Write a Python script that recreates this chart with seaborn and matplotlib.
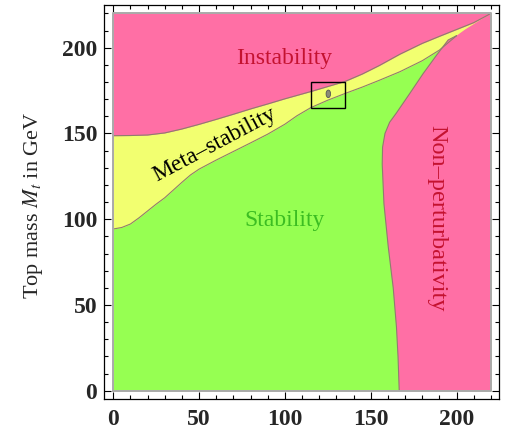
import numpy as np
import pandas as pd
import matplotlib
matplotlib.use("Agg")
import matplotlib.pyplot as plt
import seaborn as sns
from matplotlib.patches import Rectangle, Ellipse

# -------------------------------
# Data
# -------------------------------
# Instability / meta-stability boundary
x_up = [0, 10, 20, 30, 40, 50, 60, 70, 80, 90, 100, 115, 135, 145, 155, 167, 180, 190, 200, 210, 218, 220]
y_up = [148.7, 148.8, 149.1, 150.3, 152.6, 155.3, 158.2, 161.2, 164.3, 167.2, 170.2, 174.4, 180.3,
        184.6, 189.6, 196.2, 202.5, 206.6, 210.6, 214.6, 218.9, 220]

# Meta-stability / stability boundary
x_lo = [0, 5, 10, 15, 20, 25, 30, 35, 40, 45, 50, 60, 70, 80, 90, 100, 107, 115, 125, 135,
        145, 155, 167, 180, 190, 200, 205, 212, 218, 220]
y_lo = [94.3, 95.2, 97.2, 100.8, 104.8, 108.8, 112.5, 117.0, 121.5, 125.8, 129.2, 134.5, 139.5,
        144.5, 149.6, 155.4, 160.3, 165.0, 169.4, 173.3, 177.0, 181.0, 186.0, 192.4, 198.6,
        207.0, 210.6, 215.0, 218.7, 220]

# Stability / non-perturbativity boundary (bottom to top)
x_np = [166.6, 165.9, 165.0, 163.1, 160.2, 157.7, 156.7, 156.9, 158.3, 161.0, 165.0, 172.8, 180.6, 188.4, 195.1, 200.0]
y_np = [0, 20, 37, 60, 84, 109, 132, 142, 150, 156.5, 162, 173.4, 185, 195.7, 204.5, 207.0]

# Experimental point and its box
mh_exp = [125.3]
mt_exp = [173.1]
box_mh = [115, 135]
box_mt = [165, 180]

# Region labels
labels = ["Instability", "Meta\u2013stability", "Stability", "Non\u2013perturbativity"]
label_x = [99.4, 59.0, 99.6, 188.4]
label_y = [193.5, 143.5, 99.5, 100.5]

pink = "#ff6fa5"
yellow = "#f2ff70"
green = "#96ff52"
edge = "#8f7d6e"

# -------------------------------
# Style
# -------------------------------
sns.set_style("ticks")
plt.rcParams["font.family"] = ["Liberation Serif", "DejaVu Serif"]
plt.rcParams["mathtext.fontset"] = "stix"

fig = plt.figure(figsize=(5.06, 4.33), dpi=100)
ax = fig.add_axes([0.2061, 0.0785, 0.780, 0.910])

# -------------------------------
# Regions
# -------------------------------
ax.fill_between([0, 220], 0, 220, color=pink, lw=0)
ax.fill_between(x_up, 0, y_up, color=yellow, lw=0)
ax.fill_between(x_lo, 0, y_lo, color=green, lw=0)

tail = [i for i, v in enumerate(x_lo) if v > x_np[-1]]
poly_x = x_np + [x_lo[i] for i in tail] + [220]
poly_y = y_np + [y_lo[i] for i in tail] + [0]
ax.fill(poly_x, poly_y, color=pink, lw=0)

# boundary lines
sns.lineplot(x=x_up, y=y_up, sort=False, estimator=None, color=edge, lw=0.8, ax=ax)
sns.lineplot(x=x_lo[:26], y=y_lo[:26], sort=False, estimator=None, color=edge, lw=0.8, ax=ax)
sns.lineplot(x=x_np, y=y_np, sort=False, estimator=None, color=edge, lw=0.8, ax=ax)

# grey frame round the coloured square
ax.plot([0, 220, 220, 0, 0], [0, 0, 220, 220, 0], color="#aaaaaa", lw=1.4)

# experimental box and ellipse
ax.add_patch(Rectangle((box_mh[0], box_mt[0]), box_mh[1] - box_mh[0], box_mt[1] - box_mt[0],
                       fill=False, edgecolor="black", lw=1.0, zorder=5))
ax.add_patch(Ellipse((mh_exp[0], mt_exp[0]), 2.6, 4.4, facecolor="#8a8a78",
                     edgecolor="#555555", lw=0.6, zorder=5))

# -------------------------------
# Labels
# -------------------------------
ax.text(label_x[0], label_y[0], labels[0], color="#c41230", fontsize=17, ha="center", va="center")
ax.text(label_x[1], label_y[1], labels[1], color="black", fontsize=17, ha="center", va="center",
        rotation=28, rotation_mode="anchor")
ax.text(label_x[2], label_y[2], labels[2], color="#3bbd22", fontsize=17, ha="center", va="center")
ax.text(label_x[3], label_y[3], labels[3], color="#c41230", fontsize=17.5, ha="center", va="center",
        rotation=-90)

# -------------------------------
# Axes
# -------------------------------
ax.set_xlim(-5.2, 224.7)
ax.set_ylim(-4.8, 224.9)
ax.set_xticks([0, 50, 100, 150, 200])
ax.set_yticks([0, 50, 100, 150, 200])
ax.set_xticks(np.arange(0, 230, 10), minor=True)
ax.set_yticks(np.arange(0, 230, 10), minor=True)
ax.tick_params(which="both", direction="in", top=True, right=True, width=0.8, color="black")
ax.tick_params(which="major", length=5.3)
ax.tick_params(which="minor", length=3)
ax.tick_params(axis="x", which="major", labelsize=17, pad=7)
ax.tick_params(axis="y", which="major", labelsize=17, pad=5)
for lab in ax.get_xticklabels() + ax.get_yticklabels():
    lab.set_fontweight("bold")
for s in ax.spines.values():
    s.set_visible(True)
    s.set_color("black")
    s.set_linewidth(0.9)

ax.set_ylabel("Top mass $M_t$ in GeV", fontsize=16)
ax.yaxis.set_label_coords(-0.15, 0.492)

fig.savefig("out.png", dpi=100)
